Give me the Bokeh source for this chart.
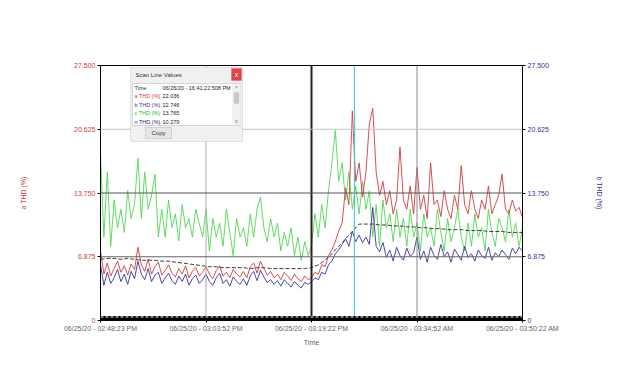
import numpy as np
from bokeh.plotting import figure
from bokeh.models import (Range1d, LinearAxis, FixedTicker, Span, BoxAnnotation,
                          Label, NumeralTickFormatter)
from bokeh.embed import file_html
from bokeh.resources import INLINE

# ---------------- data ----------------
# time axis in minutes since 06/25/20 02:48:23 PM, samples every 0.5 min
t_fine = np.arange(0, 62.5, 0.5)
t_coarse = np.arange(0, 63, 1.0)

x_tick_pos = [0, 15.5, 31, 46.5, 62]
x_tick_labels = ["06/25/20 - 02:48:23 PM", "06/25/20 - 03:03:52 PM", "06/25/20 - 03:19:22 PM",
                 "06/25/20 - 03:34:52 AM", "06/25/20 - 03:50:22 AM"]
y_ticks = [0, 6.875, 13.75, 20.625, 27.5]

c_thd = [18, 9, 16, 8,
         13, 10, 12, 9.5, 14, 11, 12.5,
         17.5, 11, 16,
         12, 13.5, 15.8, 9,
         12, 9, 13, 10, 11.5, 8.6, 12.5, 10, 11, 9, 12, 10.5,
         9, 12, 7.5, 11, 9, 10.5, 8, 12, 9.5, 7, 11, 9, 10, 8, 11.5,
         9, 12, 13.3, 10, 8.5, 11,
         9, 10.5, 7.5, 9.5, 8, 10, 7, 9, 6.5, 8.5, 7,
         8, 11.5, 9, 12.5, 10, 14, 17,
         20.5, 15, 17, 13,
         16, 12, 14.5, 11.5, 15, 12,
         14, 9, 12.5, 8, 13, 10, 11.5, 8.5, 12, 9,
         11, 8, 12, 9, 10.5, 7.5, 11.5, 9, 10, 8, 12, 9.5, 7.5, 11, 8.5, 10, 12, 9,
         7.5, 10.5, 8, 11.5, 9, 10, 7.5, 12, 9.5, 8, 11, 10, 8.5, 12, 9, 10.5, 8, 10]

a_thd = [7.5, 5.0, 6.2, 4.8, 5.6, 6.4, 5.2, 5.9, 4.9, 6.1, 5.5,
         7.9, 6.0, 5.3, 6.6, 5.0, 5.8, 6.3, 4.9, 5.4, 6.0,
         5.1, 4.7, 5.6, 5.0, 5.9, 4.6, 5.3, 5.7, 4.8, 5.2,
         5.8, 5.0, 4.5, 5.4, 5.9, 4.8, 5.2, 4.6, 5.5, 5.0,
         4.7, 5.3, 4.6, 5.8, 6.2, 5.1, 6.4, 5.6, 4.9, 5.3,
         4.6, 5.0, 4.4, 5.2, 4.8, 4.3, 5.0, 4.5, 4.2, 4.8, 4.4,
         4.6, 5.2, 5.0, 6.0, 5.8, 7.0, 7.6, 8.5, 9.7, 10.5, 14.3,
         12.5, 22.6, 15, 17, 13.3, 16,
         21.2, 22.9, 16, 13.5,
         15, 12.5, 14, 11.5, 13, 18.7,
         13, 12, 14.5, 11.5, 16.5, 12,
         13.5, 11, 17, 12.5, 13, 11.2,
         14, 12, 11, 13.5, 12, 16.7,
         12.5, 11.5, 14, 12, 11, 13,
         12, 14.5, 11.5, 12.5, 13.5, 15.8,
         12, 11.5, 13, 11.8, 12.2, 11.1]

b_thd = [6.0, 3.8, 5.2, 4.0, 4.6, 5.5, 4.2, 5.0, 3.9, 5.3, 4.5,
         6.4, 5.0, 4.4, 5.6, 4.2, 4.9, 5.2, 4.0, 4.6, 5.1,
         4.3, 3.9, 4.8, 4.2, 5.0, 3.8, 4.5, 4.9, 4.0, 4.4,
         5.0, 4.2, 3.8, 4.6, 5.1, 4.0, 4.4, 3.7, 4.7, 4.2,
         3.9, 4.5, 3.8, 4.8, 5.3, 4.3, 5.4, 4.7, 4.1, 4.4,
         3.9, 4.3, 3.7, 4.4, 4.0, 3.6, 4.2, 3.8, 3.5, 4.1, 3.9,
         4.2, 4.6, 4.4, 5.2, 5.0, 6.0, 6.4, 7.2, 7.6, 8.2, 8.8,
         8.0, 9.6, 8.5, 9.2, 8.4, 9.0,
         8.2, 12.2, 8.0, 7.4,
         8.4, 6.8, 7.6, 6.4, 7.9, 7.0,
         6.5, 7.8, 6.9, 7.3, 9.0, 6.6,
         7.5, 6.3, 7.9, 7.0, 6.6, 8.2,
         6.9, 7.4, 6.3, 7.7, 7.1, 6.5,
         8.0, 6.8, 7.2, 6.4, 7.6, 7.0,
         6.7, 7.9, 6.5, 7.3, 6.9, 7.6,
         7.1, 6.6, 7.8, 7.2, 7.9, 7.5]

n_thd = [6.6, 6.7, 6.7, 6.6, 6.7, 6.6, 6.5, 6.5, 6.5, 6.4, 6.4, 6.3, 6.2, 6.1, 6.0,
         5.9, 5.8, 5.8, 5.7, 5.7, 5.7, 5.7, 5.6, 5.7, 5.7, 5.6, 5.6, 5.6, 5.6, 5.6, 5.6,
         5.7, 6.0, 6.5, 7.2, 8.0, 8.8, 9.6, 10.4,
         10.4, 10.4, 10.3, 10.3, 10.2, 10.2, 10.1, 10.1, 10.0, 10.0, 9.9, 9.9, 9.8, 9.8,
         9.8, 9.7, 9.7, 9.7, 9.6, 9.6, 9.6, 9.5, 9.5, 9.5]

scan_time = 37.3
scan_rows = [("Time", "06/26/20 - 16:41:22.508 PM"),
             ("a THD (%)", "22.036"),
             ("b THD (%)", "12.746"),
             ("c THD (%)", "13.765"),
             ("n THD (%)", "10.279")]

# ---------------- styles ----------------
RED = "#d23c3c"
BLUE = "#34349e"
GREEN = "#4fd84f"
DARK = "#3a3a3a"
FONT = "Liberation Sans"

X0, X1, Y0, Y1 = 0, 62, 0, 27.5

p = figure(width=611, height=369, output_backend="svg", toolbar_location=None,
           x_range=Range1d(X0, X1), y_range=Range1d(Y0, Y1),
           min_border_left=100, min_border_right=89, min_border_top=65, min_border_bottom=49,
           background_fill_color="white", border_fill_color="white")
p.outline_line_color = "black"
p.outline_line_width = 1
p.xgrid.visible = False
p.ygrid.visible = False

# grid lines
for loc, col, w in [(15.5, "#a8a8a8", 1), (31, "#222222", 2), (46.5, "#8a8a8a", 1)]:
    p.add_layout(Span(location=loc, dimension="height", line_color=col, line_width=w))
for loc, col, w in [(20.625, "#c4c4c4", 1), (13.75, "#555555", 1), (6.875, "#666666", 1)]:
    p.add_layout(Span(location=loc, dimension="width", line_color=col, line_width=w))

# series
p.line(t_fine, c_thd, line_color=GREEN, line_width=0.9)
p.line(t_fine, a_thd, line_color=RED, line_width=0.9)
p.line(t_fine, b_thd, line_color=BLUE, line_width=0.9)
p.line(t_coarse, n_thd, line_color=DARK, line_width=1, line_dash="4 2")

# scan line
p.add_layout(Span(location=scan_time, dimension="height", line_color="#37c8c8", line_width=1))

# bottom marker band
p.add_layout(Span(location=0.22, dimension="width", line_color="black", line_width=5))
p.add_layout(Span(location=0.38, dimension="width", line_color="white", line_width=1, line_dash="3 2"))

# axes
p.xaxis.ticker = FixedTicker(ticks=x_tick_pos)
p.xaxis.major_label_overrides = {k: v for k, v in zip(x_tick_pos, x_tick_labels)}
p.xaxis.axis_label = "Time"
p.xaxis.axis_label_text_font = FONT
p.xaxis.axis_label_text_font_size = "7px"
p.xaxis.axis_label_text_font_style = "normal"
p.xaxis.axis_label_text_color = "#666666"
p.xaxis.axis_label_standoff = 4
p.xaxis.major_label_text_font = FONT
p.xaxis.major_label_text_font_size = "7px"
p.xaxis.major_label_text_color = "#666666"
p.xaxis.major_label_standoff = 2
p.xaxis.major_tick_out = 2
p.xaxis.major_tick_in = 0
p.xaxis.minor_tick_line_color = None
p.xaxis.axis_line_color = "black"

p.yaxis.ticker = FixedTicker(ticks=y_ticks)
p.yaxis.formatter = NumeralTickFormatter(format="0.000")
p.yaxis.major_label_overrides = {0: "0"}
p.yaxis.axis_label = "a THD (%)"
p.yaxis.axis_label_text_color = RED
p.yaxis.major_label_text_color = RED

right = LinearAxis(ticker=FixedTicker(ticks=y_ticks), formatter=NumeralTickFormatter(format="0.000"),
                   major_label_overrides={0: "0"}, axis_label="b THD (%)")
right.axis_label_text_color = BLUE
right.major_label_text_color = BLUE
p.add_layout(right, "right")

for ax in (p.yaxis[0], right):
    ax.axis_label_text_font = FONT
    ax.axis_label_text_font_size = "7px"
    ax.axis_label_text_font_style = "normal"
    ax.axis_label_standoff = 44
    ax.major_label_text_font = FONT
    ax.major_label_text_font_size = "7px"
    ax.major_label_standoff = 2
    ax.major_tick_out = 3
    ax.major_tick_in = 0
    ax.minor_tick_line_color = None
    ax.axis_line_color = "black"

# ---------------- scan line values dialog (page-pixel layout mapped to data) ----------------
def dx(px):
    return (px - 100) / 422 * (X1 - X0)

def dy(py):
    return (320 - py) / 255 * (Y1 - Y0)

def box(l, r, t, b, fill, line="#a0a0a0"):
    p.add_layout(BoxAnnotation(left=dx(l), right=dx(r), top=dy(t), bottom=dy(b),
                               fill_color=fill, fill_alpha=1, line_color=line, line_width=1,
                               level="overlay"))

def text(px, py, s, color="#333333", size="6px", align="left"):
    p.add_layout(Label(x=dx(px), y=dy(py), text=s, text_color=color, text_font=FONT,
                       text_font_size=size, text_baseline="middle", text_align=align,
                       level="overlay"))

box(130, 242, 67, 141, "#f0f0f0", "#b0b0b0")
text(135, 74.5, "Scan Line Values")
box(231, 241, 68, 80, "#e04545", "#e04545")
text(236, 73.5, "x", color="white", size="7px", align="center")
box(132, 240, 83, 125, "white", "#8c8c8c")
box(232, 240, 84, 124, "#f0f0f0", "#f0f0f0")
box(233.5, 238.5, 92, 103, "#c8c8c8", "#c8c8c8")
text(236, 87.5, "^", color="#555555", size="5px", align="center")
text(236, 120, "v", color="#555555", size="5px", align="center")
row_colors = ["#333333", RED, BLUE, "#28b428", "#222266"]
for i, ((lab, val), col) in enumerate(zip(scan_rows, row_colors)):
    yy = 87 + i * 8.5
    text(134, yy, lab, color=col, size="5.5px")
    text(162, yy, val, color="#222222", size="5.5px")
box(145, 171, 127, 138, "#e6e6e6", "#9a9a9a")
text(158, 132.5, "Copy", color="#333333", size="6px", align="center")

open("out.html", "w").write(file_html(p, INLINE))
